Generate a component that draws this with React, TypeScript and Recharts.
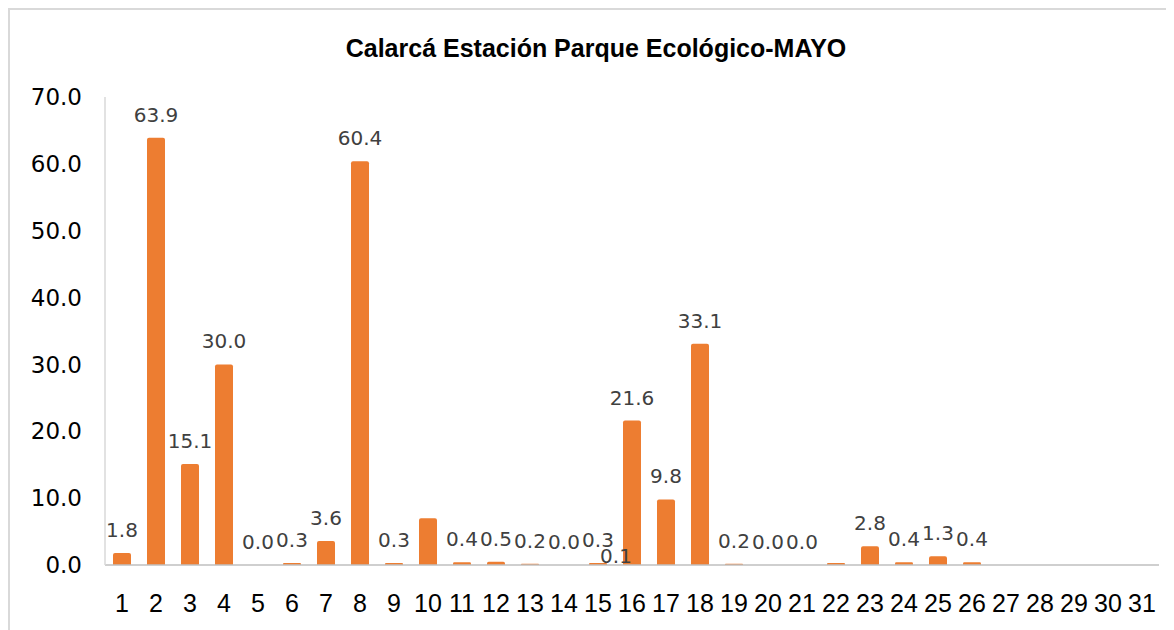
import React from 'react';
import { BarChart, Bar, XAxis, YAxis, LabelList } from 'recharts';

const days = ['1','2','3','4','5','6','7','8','9','10','11','12','13','14','15','16','17','18','19','20','21','22','23','24','25','26','27','28','29','30','31'];
const rain: (number | null)[] = [1.8, 63.9, 15.1, 30.0, 0.0, 0.3, 3.6, 60.4, 0.3, 7.0, 0.4, 0.5, 0.2, 0.0, 0.3, 21.6, 9.8, 33.1, 0.2, 0.0, 0.0, 0.3, 2.8, 0.4, 1.3, 0.4, null, null, null, null, null];
const labels = ['1.8','63.9','15.1','30.0','0.0','0.3','3.6','60.4','0.3','','0.4','0.5','0.2','0.0','0.3','21.6','9.8','33.1','0.2','0.0','0.0','','2.8','0.4','1.3','0.4','','','','',''];
const extraLabels = ['','','','','','','','','','','','','','','','0.1','','','','','','','','','','','','','','',''];
const yTicks = [0, 10, 20, 30, 40, 50, 60, 70];
const title = 'Calarcá Estación Parque Ecológico-MAYO';

const data = days.map((d, i) => ({ day: d, value: rain[i], label: labels[i], extra: extraLabels[i] }));

const TopLabel = (props: any) => {
  const { x, y, width, value } = props;
  if (x == null || y == null || !value) return null;
  const cx = Number(x) + Number(width) / 2;
  return (
    <text x={cx} y={Number(y) - 16} textAnchor="middle" fontFamily="DejaVu Sans" fontSize={20} fill="#404040">
      {value}
    </text>
  );
};

const ExtraLabel = (props: any) => {
  const { x, y, width, height, value } = props;
  if (x == null || y == null || !value) return null;
  const cx = Number(x) + Number(width) / 2;
  return (
    <text x={cx - 16} y={Number(y) + Number(height) - 2} textAnchor="middle" fontFamily="DejaVu Sans" fontSize={20} fill="#404040">
      {value}
    </text>
  );
};

export default function App() {
  return (
    <div
      style={{
        position: 'relative',
        width: 1166,
        height: 622,
        borderTop: '2px solid #d9d9d9',
        borderLeft: '2px solid #d9d9d9',
        boxSizing: 'border-box',
        background: '#fff',
      }}
    >
      <div
        style={{
          position: 'absolute',
          left: 0,
          top: 24,
          width: 1172,
          textAlign: 'center',
          fontFamily: '"Liberation Sans", Arial, sans-serif',
          fontWeight: 'bold',
          fontSize: 25,
          color: '#000',
          lineHeight: '28px',
        }}
      >
        {title}
      </div>
      <BarChart
        width={1164}
        height={620}
        data={data}
        margin={{ top: 87, right: 15, left: 0, bottom: 0 }}
      >
        <XAxis
          dataKey="day"
          height={65}
          tickLine={false}
          tickSize={0}
          tickMargin={29}
          axisLine={{ stroke: '#bfbfbf', strokeWidth: 1.5 }}
          interval={0}
          tick={{ fontFamily: '"Liberation Sans", Arial, sans-serif', fontSize: 25, fill: '#000' }}
        />
        <YAxis
          width={95}
          domain={[0, 70]}
          ticks={yTicks}
          tickFormatter={(v: number) => v.toFixed(1)}
          tickLine={false}
          tickSize={0}
          tickMargin={23}
          axisLine={{ stroke: '#d9d9d9', strokeWidth: 1.5 }}
          tick={{ fontFamily: 'DejaVu Sans', fontSize: 23, fill: '#000' }}
          interval={0}
        />
        <Bar dataKey="value" fill="#ED7D31" barSize={18} radius={[2, 2, 0, 0]} minPointSize={0.01} isAnimationActive={false}>
          <LabelList dataKey="label" content={TopLabel} />
          <LabelList dataKey="extra" content={ExtraLabel} />
        </Bar>
      </BarChart>
    </div>
  );
}
